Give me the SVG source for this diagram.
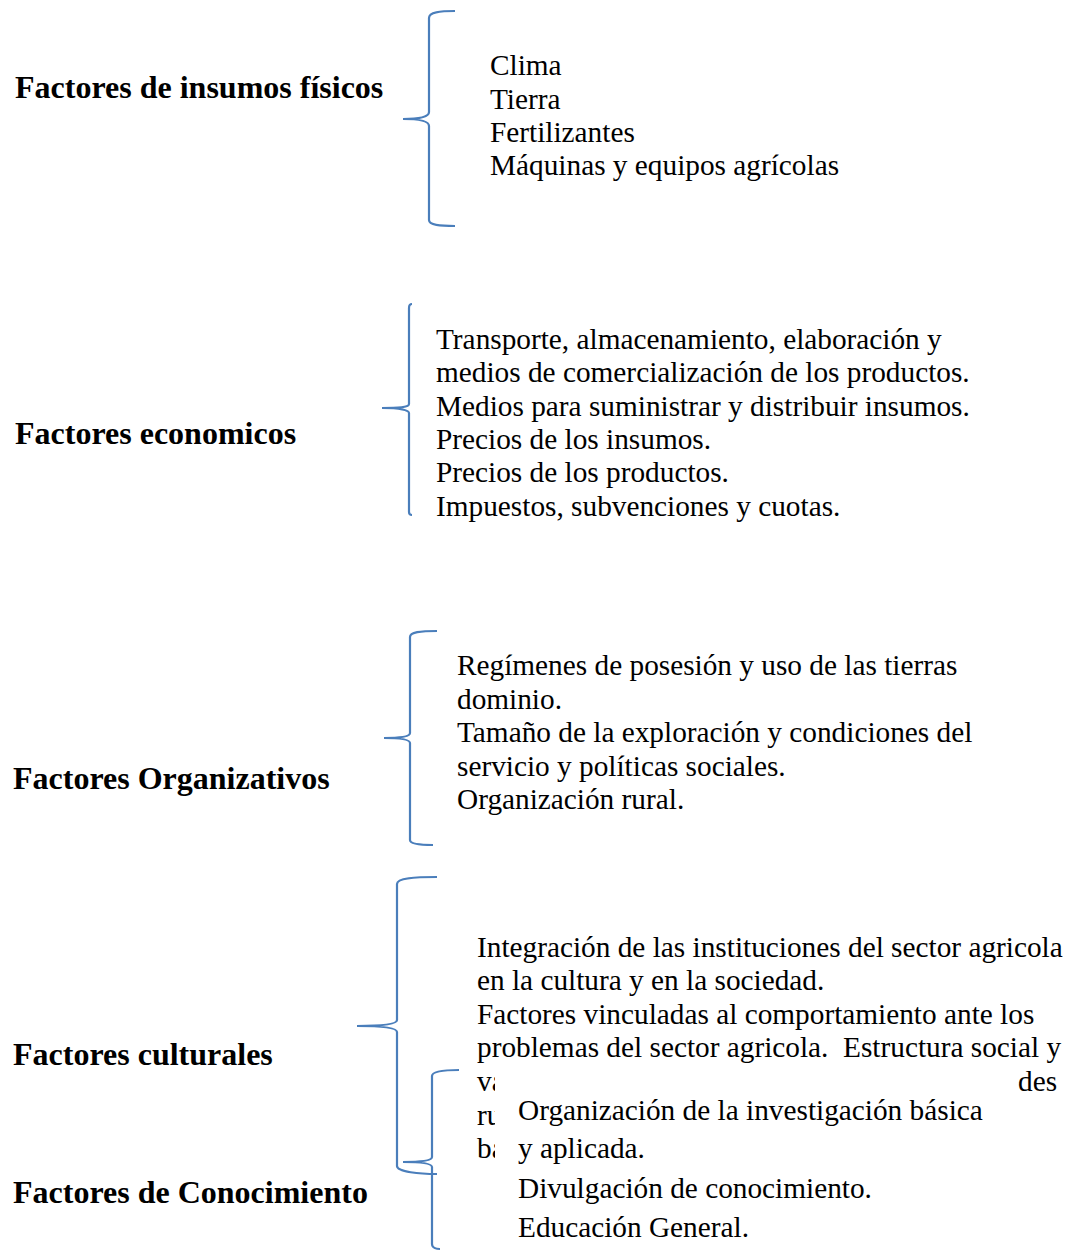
<svg xmlns="http://www.w3.org/2000/svg" width="1075" height="1251" viewBox="0 0 1075 1251">
<style>
.lbl{font-family:"Liberation Serif","Times New Roman",serif;font-weight:bold;font-size:32px;fill:#000}
.txt{font-family:"Liberation Serif","Times New Roman",serif;font-size:29.3px;fill:#000}
.brace{fill:none;stroke:#4a7ebb;stroke-width:2.2}
</style>
<defs>
<clipPath id="cutLeft"><rect x="0" y="1070" width="495" height="181"/></clipPath>
</defs>
<rect width="1075" height="1251" fill="#fff"/>
<g id="connectors">
<path class="brace" d="M455,11 C440,11 429,12 429,18 L429,112 C429,117 420,119 403,119 C420,119 429,121 429,126 L429,220 C429,225 440,226 455,226"/>
<path class="brace" d="M412,304 C410,304 409,305 409,308 L409,404 C409,407 400,408 382,408 C400,408 409,410 409,413 L409,512 C409,514 410,515 412,515"/>
<path class="brace" d="M437,631 C420,631 410,632 410,637 L410,733 C410,736 402,738 384,738 C402,738 410,740 410,743 L410,840 C410,844 420,845 433,845"/>
<path class="brace" d="M437,877 C415,877 397,878 397,884 L397,1020 C397,1024 385,1026 357,1026 C385,1026 397,1028 397,1032 L397,1166 C397,1172 420,1174 437,1174"/>
<path class="brace" d="M459,1070 C445,1070 432,1071 432,1076 L432,1157 C432,1160 425,1162 403,1162 C425,1162 432,1164 432,1167 L432,1244 C432,1248 437,1249 440,1249"/>
</g>
<g id="node-insumos">
<text class="lbl" x="15" y="98">Factores de insumos físicos</text>
<text class="txt" x="490" y="75">Clima</text>
<text class="txt" x="490" y="108.5">Tierra</text>
<text class="txt" x="490" y="142">Fertilizantes</text>
<text class="txt" x="490" y="175">Máquinas y equipos agrícolas</text>
</g>
<g id="node-economicos">
<text class="lbl" x="15" y="444">Factores economicos</text>
<text class="txt" x="436" y="349">Transporte, almacenamiento, elaboración y</text>
<text class="txt" x="436" y="382">medios de comercialización de los productos.</text>
<text class="txt" x="436" y="416">Medios para suministrar y distribuir insumos.</text>
<text class="txt" x="436" y="449">Precios de los insumos.</text>
<text class="txt" x="436" y="482">Precios de los productos.</text>
<text class="txt" x="436" y="516">Impuestos, subvenciones y cuotas.</text>
</g>
<g id="node-organizativos">
<text class="lbl" x="13" y="789">Factores Organizativos</text>
<text class="txt" x="457" y="675">Regímenes de posesión y uso de las tierras</text>
<text class="txt" x="457" y="709">dominio.</text>
<text class="txt" x="457" y="742">Tamaño de la exploración y condiciones del</text>
<text class="txt" x="457" y="776">servicio y políticas sociales.</text>
<text class="txt" x="457" y="809">Organización rural.</text>
</g>
<g id="node-culturales">
<text class="lbl" x="13" y="1065">Factores culturales</text>
<text class="txt" x="477" y="957">Integración de las instituciones del sector agricola</text>
<text class="txt" x="477" y="990">en la cultura y en la sociedad.</text>
<text class="txt" x="477" y="1024">Factores vinculadas al comportamiento ante los</text>
<text class="txt" x="477" y="1057" xml:space="preserve">problemas del sector agricola.  Estructura social y</text>
<g clip-path="url(#cutLeft)">
<text class="txt" x="477" y="1091">va</text>
<text class="txt" x="477" y="1124.5">ru</text>
<text class="txt" x="477" y="1158">ba</text>
</g>
<text class="txt" x="1018" y="1091">des</text>
</g>
<g id="node-conocimiento">
<text class="lbl" x="13" y="1203">Factores de Conocimiento</text>
<text class="txt" x="518" y="1120">Organización de la investigación básica</text>
<text class="txt" x="518" y="1158">y aplicada.</text>
<text class="txt" x="518" y="1197.5">Divulgación de conocimiento.</text>
<text class="txt" x="518" y="1236.5">Educación General.</text>
</g>
</svg>
